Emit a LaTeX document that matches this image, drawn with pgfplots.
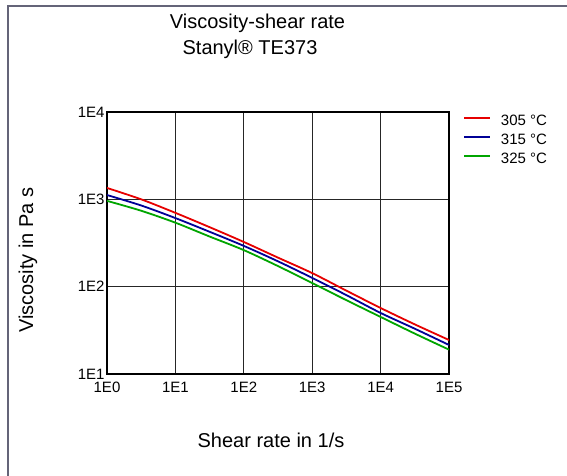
\documentclass[border=0pt]{standalone}
\usepackage{pgfplots}
\pgfplotsset{compat=1.18}
\usepackage{fontspec}
\setmainfont{Liberation Sans}
\definecolor{cred}{RGB}{230,0,0}
\definecolor{cblue}{RGB}{0,0,150}
\definecolor{cgreen}{RGB}{0,165,0}
\definecolor{frame}{RGB}{100,100,120}
\begin{document}
\begin{tikzpicture}[x=1bp,y=1bp]
\path[use as bounding box] (0,0) rectangle (567,476);
\draw[color=frame, line width=2bp] (7.5,0) -- (7.5,469.5) -- (567,469.5);
\node[font=\fontsize{20bp}{24bp}\selectfont, anchor=base] at (257.5,447) {Viscosity-shear rate};
\node[font=\fontsize{20bp}{24bp}\selectfont, anchor=base] at (250,421) {Stanyl® TE373};
\node[font=\fontsize{20bp}{24bp}\selectfont, anchor=base] at (271,28) {Shear rate in 1/s};
\node[font=\fontsize{20bp}{24bp}\selectfont, rotate=90] at (28,216) {Viscosity in Pa s};
\begin{axis}[
  at={(107bp,102bp)}, anchor=south west,
  scale only axis, width=342bp, height=262bp,
  xmode=log, ymode=log, log basis x=10, log basis y=10,
  xmin=1, xmax=1e5, ymin=10, ymax=1e4,
  xtick={1,10,100,1000,10000,100000},
  xticklabels={1E0,1E1,1E2,1E3,1E4,1E5},
  ytick={10,100,1000,10000},
  yticklabels={1E1,1E2,1E3,1E4},
  minor tick num=0, minor xtick={}, minor ytick={},
  major tick length=0pt,
  tick label style={font=\fontsize{15bp}{17bp}\selectfont},
  xticklabel style={yshift=-5bp},
  yticklabel style={xshift=1bp},
  grid=major,
  major grid style={black!85, line width=1.3bp},
  axis line style={black, line width=1.6bp},
  legend style={at={(1.041,0.99)}, anchor=north west, draw=none, fill=none,
    font=\fontsize{15bp}{15bp}\selectfont, row sep=5bp, inner sep=0pt, outer sep=0pt,
    nodes={inner sep=0pt, outer sep=0pt, text height=11bp, text depth=3bp}},
  legend cell align=left,
  legend image code/.code={\draw[#1, line width=2bp] (0bp,4bp) -- (26bp,4bp); \path (36bp,4bp);},
  clip=true,
]
\addplot[cred, line width=1.8bp, smooth] coordinates {
(1,1350) (3.162,1000) (10,700) (31.62,480) (100,325) (316.2,215) (1000,143) (3162,90) (10000,57) (31620,37) (100000,24.5)};
\addlegendentry{305 °C}
\addplot[cblue, line width=1.8bp, smooth] coordinates {
(1,1120) (3.162,850) (10,610) (31.62,425) (100,293) (316.2,195) (1000,126) (3162,80) (10000,50) (31620,33) (100000,21.5)};
\addlegendentry{315 °C}
\addplot[cgreen, line width=1.8bp, smooth] coordinates {
(1,960) (3.162,740) (10,540) (31.62,375) (100,262) (316.2,172) (1000,110) (3162,70) (10000,45) (31620,29) (100000,19)};
\addlegendentry{325 °C}
\end{axis}
\end{tikzpicture}
\end{document}
